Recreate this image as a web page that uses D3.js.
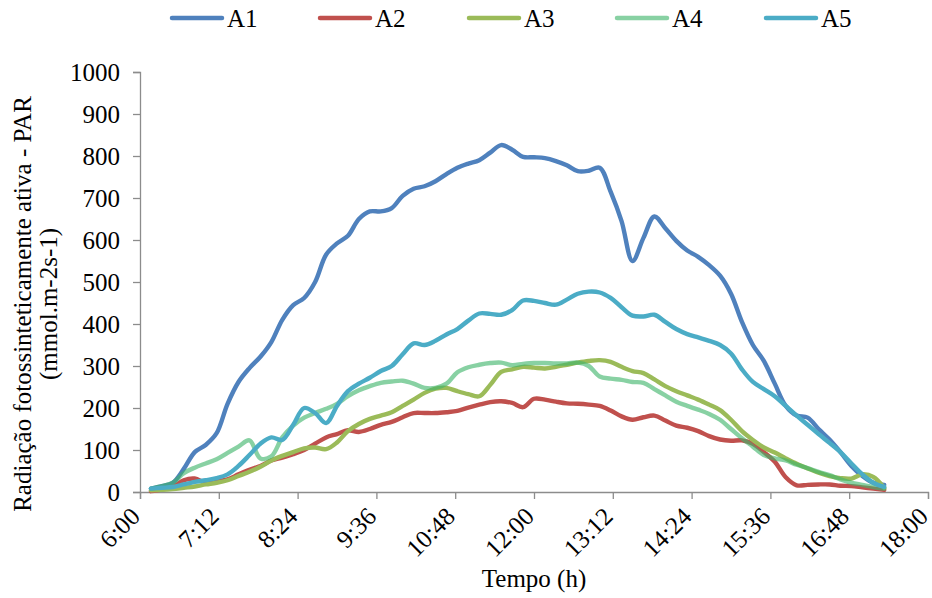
<!DOCTYPE html>
<html><head><meta charset="utf-8">
<script src="https://cdn.jsdelivr.net/npm/d3@7/dist/d3.min.js"></script>
<style>body{margin:0;background:#fff;} svg{display:block;} text{font-family:"Liberation Serif","Times New Roman",serif;fill:#000;}</style>
</head><body><svg id="c" width="932" height="598"></svg>
<script>
const times = ["6:10","6:20","6:30","6:40","6:50","7:00","7:10","7:20","7:30","7:40","7:50","8:00","8:10","8:20","8:30","8:40","8:50","9:00","9:10","9:20","9:30","9:40","9:50","10:00","10:10","10:20","10:30","10:40","10:50","11:00","11:10","11:20","11:30","11:40","11:50","12:00","12:10","12:20","12:30","12:40","12:50","13:00","13:10","13:20","13:30","13:40","13:50","14:00","14:10","14:20","14:30","14:40","14:50","15:00","15:10","15:20","15:30","15:40","15:50","16:00","16:10","16:20","16:30","16:40","16:50","17:00","17:10","17:20"];
const A1 = [8,14,22,55,95,112,140,210,262,295,322,357,410,445,462,500,565,592,610,650,668,668,676,705,722,728,740,757,772,782,790,808,826,815,798,797,795,788,778,764,765,772,715,645,550,605,656,628,598,575,560,540,515,472,405,350,312,258,205,182,177,150,125,95,62,38,22,17];
const A2 = [2,6,12,28,32,22,25,30,42,53,62,75,82,90,100,115,130,138,147,143,150,160,167,178,188,188,188,190,193,201,208,214,216,212,202,222,220,215,211,210,208,205,194,180,172,178,182,170,158,153,145,133,125,122,123,115,95,72,35,16,17,18,18,15,14,11,8,5];
const A3 = [4,5,7,10,13,18,22,28,38,48,60,75,86,95,104,106,102,118,145,162,174,182,190,205,220,236,246,248,240,233,228,255,286,292,298,296,294,298,303,308,312,314,310,298,288,283,268,252,240,230,220,208,195,172,145,124,106,94,80,67,56,46,38,33,32,42,36,10];
const A4 = [8,14,22,45,58,68,78,93,108,123,80,85,130,158,177,188,198,210,228,242,252,260,263,265,258,248,248,258,285,297,303,307,308,302,305,307,307,306,306,308,300,275,270,267,262,260,245,230,215,205,196,186,172,150,128,108,88,80,75,65,57,48,40,30,22,17,12,8];
const A5 = [8,10,12,18,24,28,33,42,62,88,115,130,124,160,200,188,164,205,240,258,272,288,300,328,354,350,360,375,388,408,425,424,422,433,456,455,450,446,458,472,477,475,462,440,420,418,422,405,388,376,368,360,350,330,292,262,245,228,205,182,160,138,117,95,68,42,22,12];
const seriesNames = ["A1","A2","A3","A4","A5"];
const seriesColors = ["#4F81BD","#C0504D","#9BBB59","#3FB46A","#4BACC6"];
const seriesOpacity = [1,1,1,0.62,1];
const xTickLabels = ["6:00","7:12","8:24","9:36","10:48","12:00","13:12","14:24","15:36","16:48","18:00"];
const yTicks = [0,100,200,300,400,500,600,700,800,900,1000];

const FS = "25px";
const FF = "'Liberation Serif','Times New Roman',serif";
const toMin = s => { const [h,m] = s.split(":").map(Number); return h*60+m; };
const svg = d3.select("#c");
const x = d3.scaleLinear().domain([360,1080]).range([140,928]);
const y = d3.scaleLinear().domain([0,1000]).range([492,72]);
const axisColor = "#8c8c8c";

// Y axis
const ya = svg.append("g").attr("transform","translate(140,0)")
  .call(d3.axisLeft(y).tickValues(yTicks).tickSize(7).tickPadding(13).tickFormat(d3.format("d")));
ya.select(".domain").attr("stroke",axisColor).attr("stroke-width",1.3);
ya.selectAll(".tick line").attr("stroke",axisColor).attr("stroke-width",1.3);
ya.selectAll("text").style("font-size",FS).style("font-family",FF).attr("fill","#000");

// X axis
const xa = svg.append("g").attr("transform","translate(0,492)")
  .call(d3.axisBottom(x).tickValues(xTickLabels.map(toMin)).tickSize(7).tickFormat((d,i)=>xTickLabels[i]));
xa.select(".domain").attr("stroke",axisColor).attr("stroke-width",1.3);
xa.selectAll(".tick line").attr("stroke",axisColor).attr("stroke-width",1.3);
xa.selectAll("text").style("font-size",FS).style("font-family",FF).attr("fill","#000")
  .attr("text-anchor","end").attr("y",0).attr("dy",0)
  .attr("transform","translate(1,26) rotate(-45)");

// Lines
const line = d3.line().x((d,i)=>x(toMin(times[i]))).y(d=>y(d)).curve(d3.curveCatmullRom.alpha(0.5));
[A1,A2,A3,A4,A5].forEach((arr,k)=>{
  svg.append("path").datum(arr).attr("d",line).attr("fill","none")
    .attr("stroke",seriesColors[k]).attr("stroke-opacity",seriesOpacity[k])
    .attr("stroke-width",4.4).attr("stroke-linejoin","round").attr("stroke-linecap","round");
});

// Legend
const legX = [172,320,469,617,766];
seriesNames.forEach((n,k)=>{
  svg.append("line").attr("x1",legX[k]).attr("x2",legX[k]+50).attr("y1",18).attr("y2",18)
    .attr("stroke",seriesColors[k]).attr("stroke-opacity",seriesOpacity[k]).attr("stroke-width",4.5).attr("stroke-linecap","round");
  svg.append("text").attr("x",legX[k]+55).attr("y",27).style("font-size",FS).style("font-family",FF).text(n);
});

// Axis titles
svg.append("text").attr("transform","translate(31,304) rotate(-90)").attr("text-anchor","middle")
  .style("font-size",FS).style("font-family",FF).text("Radiação fotossinteticamente ativa - PAR");
svg.append("text").attr("transform","translate(57,304) rotate(-90)").attr("text-anchor","middle")
  .style("font-size",FS).style("font-family",FF).text("(mmol.m-2s-1)");
svg.append("text").attr("x",534).attr("y",587).attr("text-anchor","middle")
  .style("font-size",FS).style("font-family",FF).text("Tempo (h)");
</script></body></html>
